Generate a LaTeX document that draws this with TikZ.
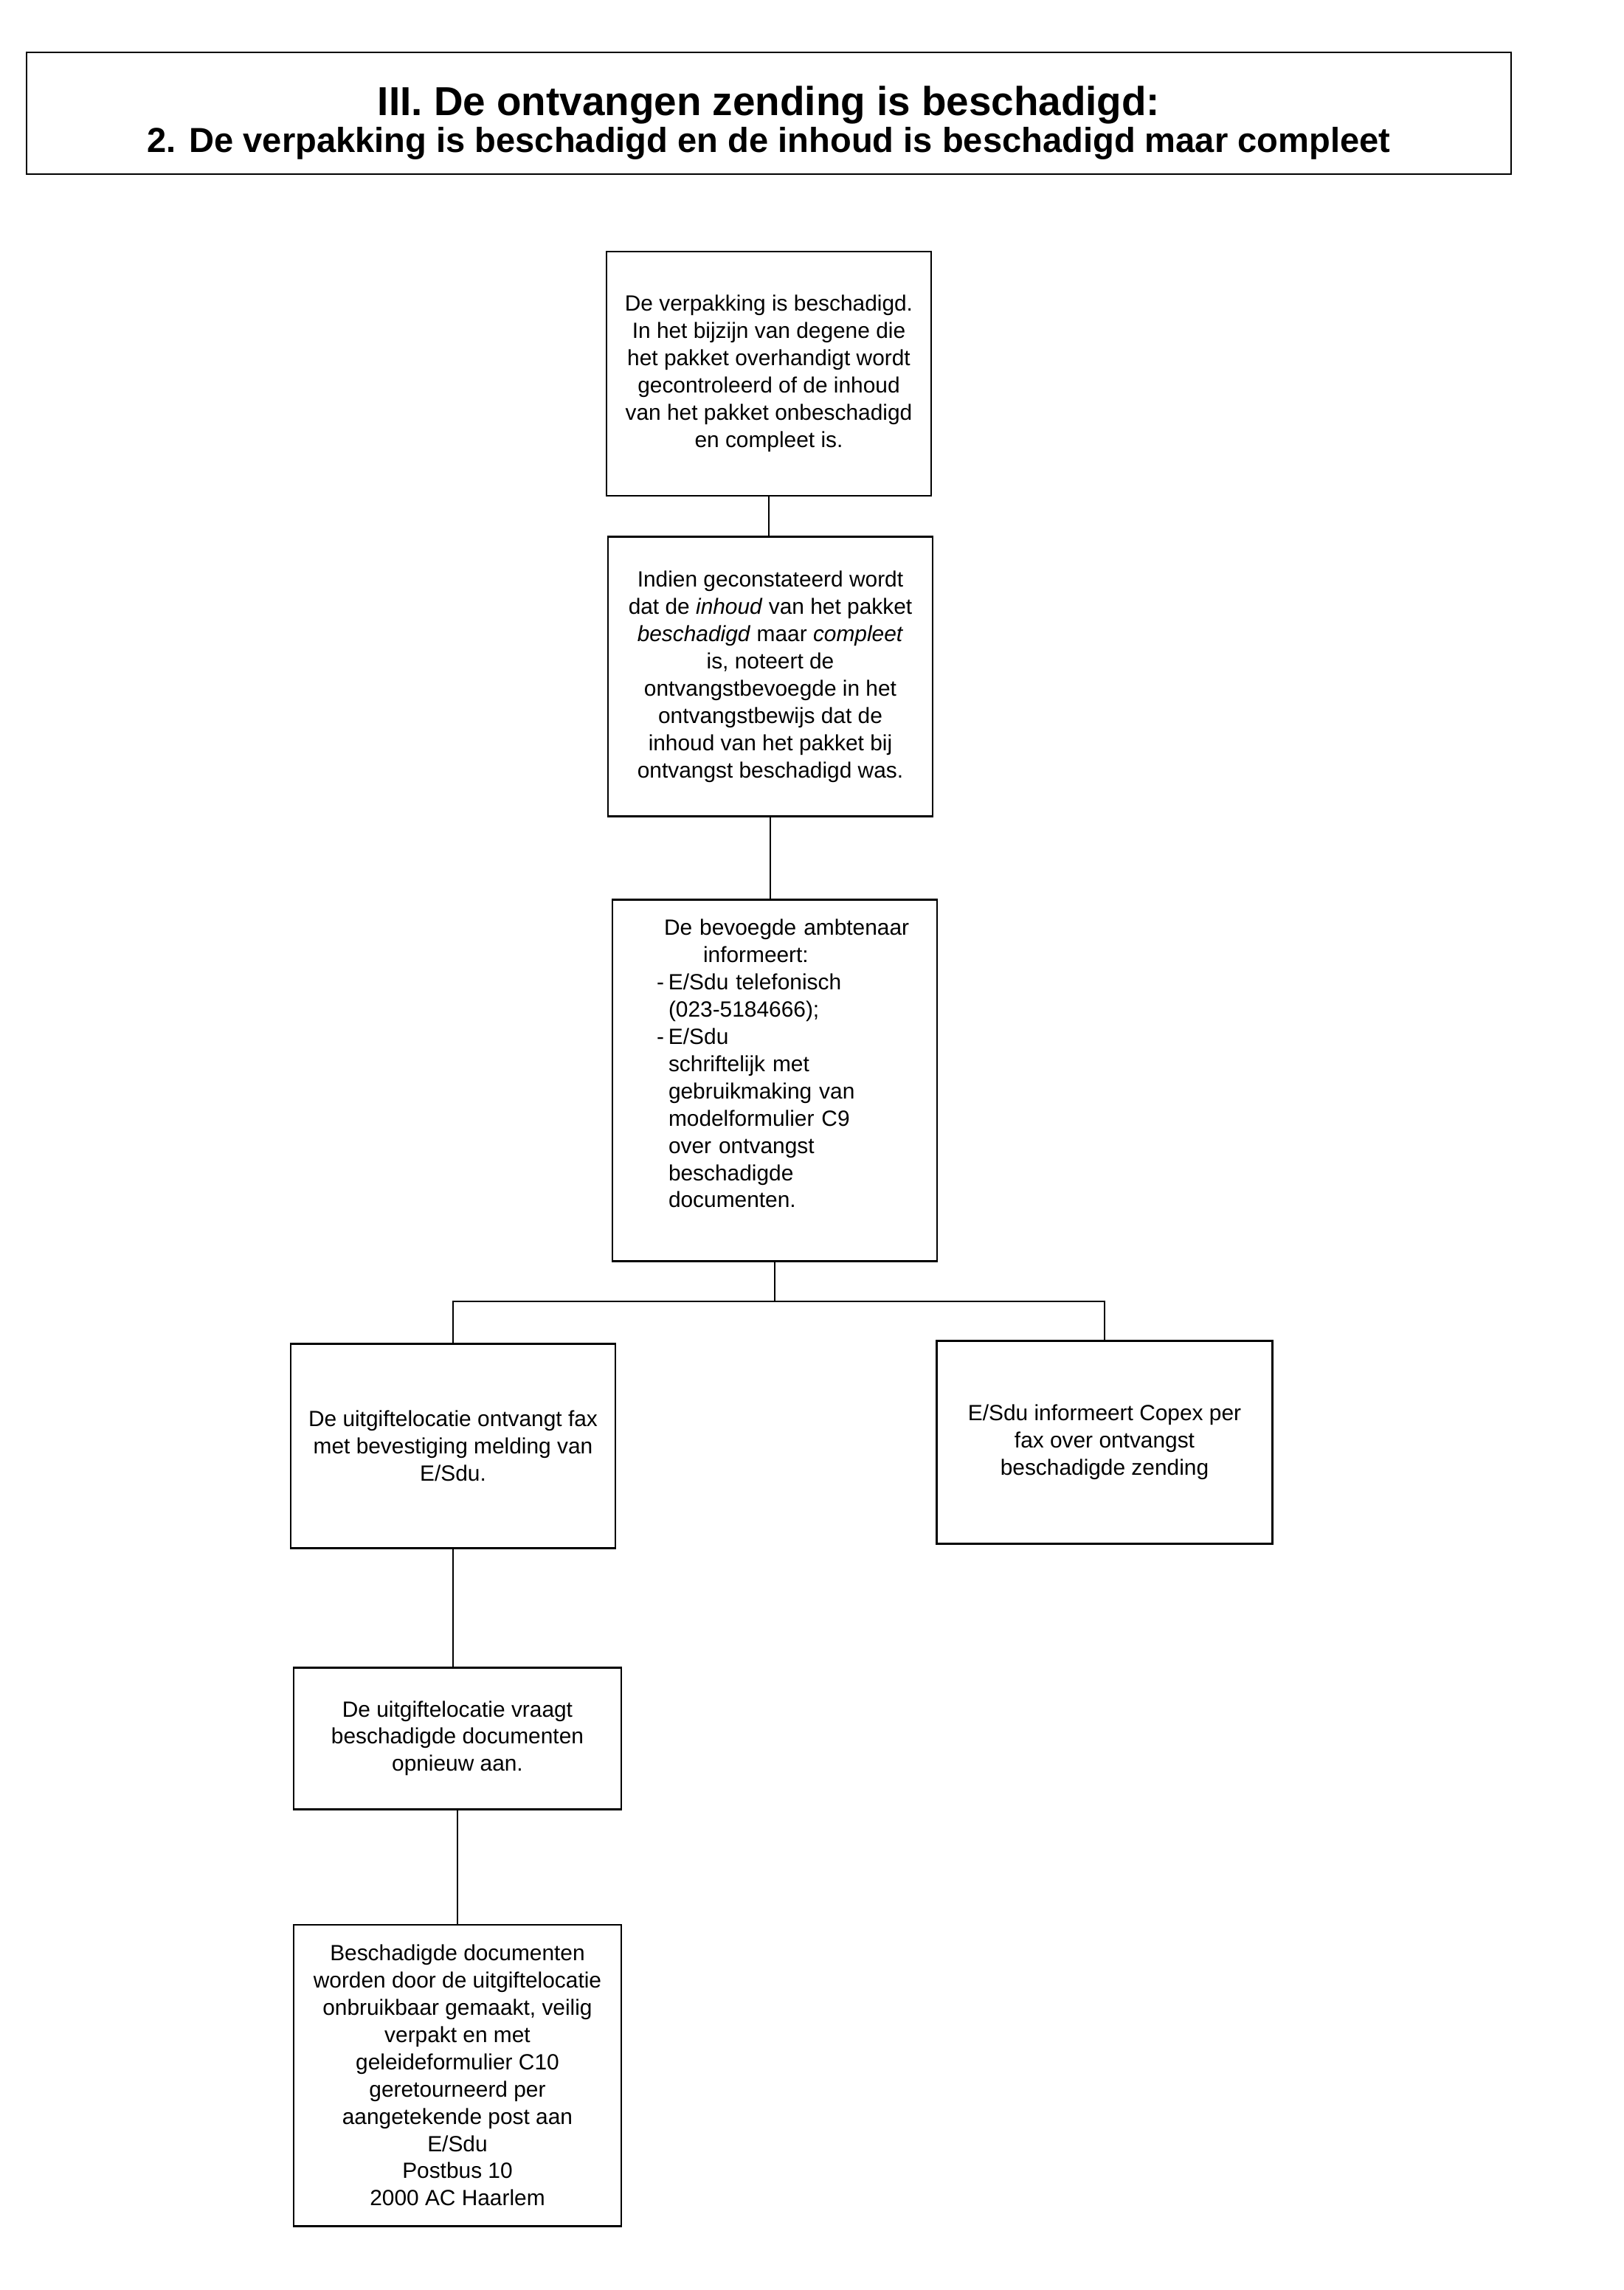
\documentclass[tikz,border=0pt]{standalone}
\usepackage{fontspec}
\setmainfont{Liberation Sans}
\usetikzlibrary{positioning,calc}
\newcommand{\flowfont}{\fontsize{8.5}{10.5}\selectfont}

\begin{document}
\begin{tikzpicture}[
    node distance=1.1cm,
    stepbox/.style={draw, rectangle, line width=0.8pt, minimum width=4.4cm, inner sep=2pt, align=center, font=\flowfont},
    link/.style={line width=0.8pt}
]
\useasboundingbox (0,0) rectangle (22,-31.04);

% Titel
\node[draw, line width=0.8pt, minimum width=20.12cm, minimum height=1.65cm, align=center, font=\bfseries] (titel) at (10.42,-1.535)
{{\fontsize{15.6}{18}\selectfont\rule{0pt}{0.66cm}III. De ontvangen zending is beschadigd:}\\
{\fontsize{13.4}{16.5}\selectfont 2. De verpakking is beschadigd en de inhoud is beschadigd maar compleet}};

% Verpakking beschadigd
\node[stepbox, minimum height=3.31cm] (verpakking) at (10.42,-5.065)
{De verpakking is beschadigd.\\In het bijzijn van degene die\\het pakket overhandigt wordt\\gecontroleerd of de inhoud\\van het pakket onbeschadigd\\en compleet is.};

% Inhoud beschadigd maar compleet
\node[stepbox, below=0.53cm of verpakking, xshift=0.02cm, minimum height=3.79cm] (inhoud)
{Indien geconstateerd wordt\\dat de \textit{inhoud} van het pakket\\\textit{beschadigd} maar \textit{compleet}\\is, noteert de\\ontvangstbevoegde in het\\ontvangstbewijs dat de\\inhoud van het pakket bij\\ontvangst beschadigd was.};

% Ambtenaar informeert
\node[stepbox, below=1.10cm of inhoud, xshift=0.06cm, minimum height=4.90cm, text width=3.2cm, align=left] (informeert)
{\makebox[0pt][l]{\hspace*{0.1cm}De bevoegde ambtenaar}\\
\hspace*{0.63cm}informeert:\\
\makebox[0.16cm][l]{-}E/Sdu telefonisch\\
\hspace*{0.16cm}(023-5184666);\\
\makebox[0.16cm][l]{-}E/Sdu\\
\hspace*{0.16cm}schriftelijk met\\
\hspace*{0.16cm}gebruikmaking van\\
\hspace*{0.16cm}modelformulier C9\\
\hspace*{0.16cm}over ontvangst\\
\hspace*{0.16cm}beschadigde\\
\hspace*{0.16cm}documenten.\rule[-0.46cm]{0pt}{0pt}};

% Fax naar uitgiftelocatie
\node[stepbox, below=1.09cm of informeert, xshift=-4.36cm, minimum height=2.77cm] (fax)
{De uitgiftelocatie ontvangt fax\\met bevestiging melding van\\E/Sdu.};

% Copex
\node[stepbox, below=1.05cm of informeert, xshift=4.47cm, minimum width=4.55cm, minimum height=2.75cm] (copex)
{E/Sdu informeert Copex per\\fax over ontvangst\\beschadigde zending};

% Opnieuw aanvragen
\node[stepbox, below=1.59cm of fax, xshift=0.06cm, minimum width=4.44cm, minimum height=1.92cm] (aanvraag)
{De uitgiftelocatie vraagt\\beschadigde documenten\\opnieuw aan.};

% Retour
\node[stepbox, below=1.54cm of aanvraag, minimum width=4.44cm, minimum height=4.08cm] (retour)
{Beschadigde documenten\\worden door de uitgiftelocatie\\onbruikbaar gemaakt, veilig\\verpakt en met\\geleideformulier C10\\geretourneerd per\\aangetekende post aan\\E/Sdu\\Postbus 10\\2000 AC Haarlem};

% Verbindingen
\draw[link] (verpakking.south) -- (verpakking.south |- inhoud.north);
\draw[link] (inhoud.south) -- (inhoud.south |- informeert.north);
\draw[link] (informeert.south) -- ++(0,-0.53) coordinate (splits);
\draw[link] (splits) -| (fax.north);
\draw[link] (splits) -| (copex.north);
\draw[link] (fax.south) -- (fax.south |- aanvraag.north);
\draw[link] (aanvraag.south) -- (aanvraag.south |- retour.north);

\end{tikzpicture}
\end{document}
